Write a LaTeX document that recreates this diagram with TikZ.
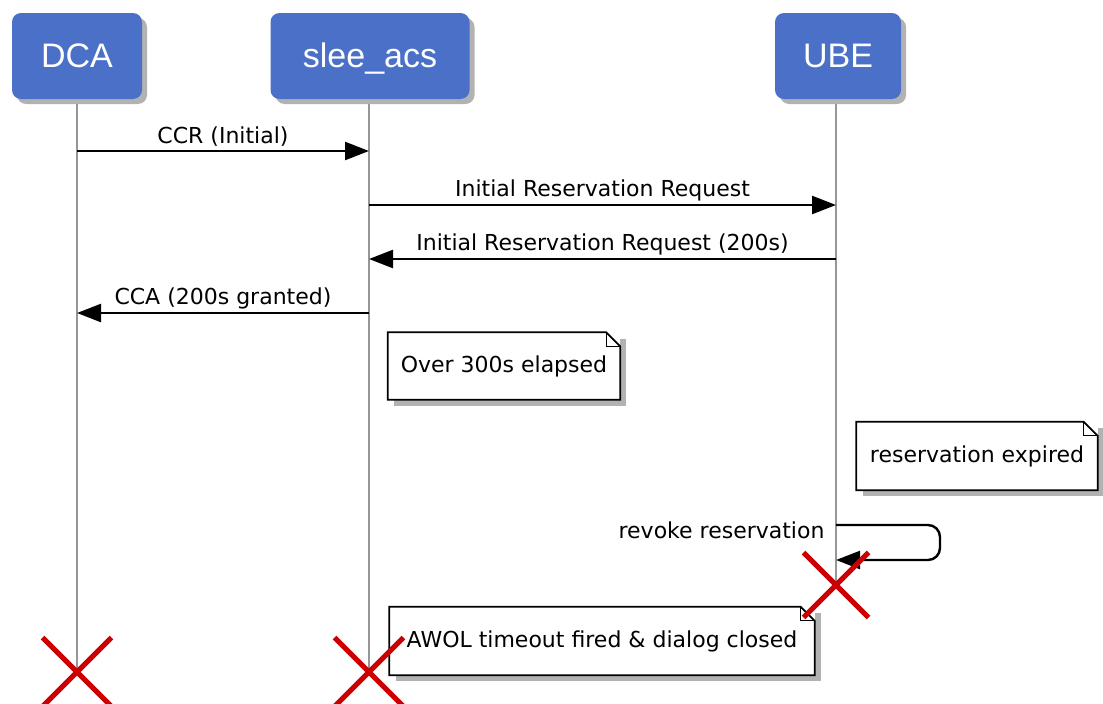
\documentclass[tikz,border=0pt]{standalone}
\usepackage{fontspec}
\setmainfont{DejaVu Sans}
\newfontfamily\headfont{Liberation Sans}
\usetikzlibrary{arrows.meta,shadows,shapes.misc}
\definecolor{actorblue}{RGB}{74,112,200}
\definecolor{crossred}{RGB}{204,0,0}
\definecolor{lifegray}{RGB}{150,150,150}
\newcommand{\notecorner}[1]{%
  \draw[line width=1.8pt] (#1.south west) -- (#1.north west) -- ([xshift=-14pt]#1.north east)
    -- ([yshift=-14pt]#1.north east) -- (#1.south east) -- cycle;
  \draw[line width=1pt] ([xshift=-14pt]#1.north east) |- ([yshift=-14pt]#1.north east);
}
\begin{document}
\begin{tikzpicture}[x=1pt,y=-1pt,
  actor/.style={rectangle, rounded corners=9pt, fill=actorblue, text=white,
    font=\headfont\fontsize{34}{40}\selectfont, minimum height=86pt,
    text height=25pt, text depth=3pt,
    drop shadow={shadow xshift=5pt, shadow yshift=-5pt, fill=gray!60, opacity=1}},
  lifeline/.style={draw=lifegray, line width=2pt},
  msg/.style={draw=black, line width=2.4pt, -{Triangle[length=24pt,width=18pt]}},
  lbl/.style={above, inner sep=3pt, font=\fontsize{22}{26}\selectfont},
  note/.style={rectangle, fill=white, font=\fontsize{22}{26}\selectfont,
    drop shadow={shadow xshift=6pt, shadow yshift=-6pt, fill=gray!60, opacity=1}},
  endmark/.style={cross out, draw=crossred, line width=5pt, minimum size=64pt, inner sep=0pt}]
\useasboundingbox (0,0) rectangle (1103,704);

% lifelines
\coordinate (dcaend) at (77,672);
\coordinate (acsend) at (369,672);
\coordinate (ubeend) at (836,585);
\draw[lifeline] (77,56) -- (dcaend);
\draw[lifeline] (369,56) -- (acsend);
\draw[lifeline] (836,56) -- (ubeend);

\node[actor, minimum width=130pt] (dca) at (77,56) {DCA};
\node[actor, minimum width=199pt] (acs) at (370,56) {slee\_acs};
\node[actor, minimum width=126pt] (ube) at (838,56) {UBE};

% messages
\coordinate (dca1) at (77,151);
\coordinate (acs1) at (369,151);
\coordinate (acs2) at (369,205);
\coordinate (ube2) at (836,205);
\coordinate (ube3) at (836,259);
\coordinate (acs3) at (369,259);
\coordinate (acs4) at (369,313);
\coordinate (dca4) at (77,313);

\draw[msg] (dca1) -- node[lbl] (ccr) {CCR (Initial)} (acs1);
\draw[msg] (acs2) -- node[lbl] (irr) {Initial Reservation Request} (ube2);
\draw[msg] (ube3) -- node[lbl] (irra) {Initial Reservation Request (200s)} (acs3);
\draw[msg] (acs4) -- node[lbl] (cca) {CCA (200s granted)} (dca4);

% notes
\node[note, minimum width=232pt, minimum height=67pt] (over) at (504,366) {Over 300s elapsed};
\notecorner{over}
\node[note, minimum width=241pt, minimum height=68pt] (expired) at (977,456) {reservation expired};
\notecorner{expired}

% self message
\coordinate (ube5) at (836,525);
\coordinate (ube6) at (836,560);
\draw[msg, rounded corners=12pt] (ube5) -- ++(104,0) |- (ube6);
\node[anchor=east, font=\fontsize{22}{26}\selectfont] (revoke) at (828,530) {revoke reservation};

\node[note, minimum width=425pt, minimum height=68pt] (awol) at (602,641) {AWOL timeout fired \& dialog closed};
\notecorner{awol}

% ends
\node[endmark] (dcax) at (dcaend) {};
\node[endmark] (acsx) at (acsend) {};
\node[endmark, minimum size=60pt] (ubex) at (ubeend) {};
\end{tikzpicture}
\end{document}
